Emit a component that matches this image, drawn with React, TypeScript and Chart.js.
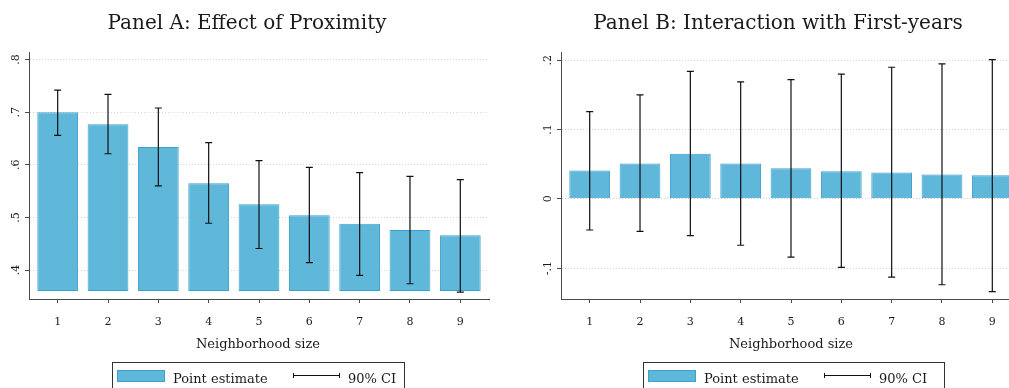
import React, { useEffect, useRef } from 'react';
import { Chart, registerables } from 'chart.js';

Chart.register(...registerables);

// ---------- data ----------
const neighborhoodSizes = [1, 2, 3, 4, 5, 6, 7, 8, 9];

const proximityEstimate = [0.700, 0.677, 0.634, 0.565, 0.525, 0.504, 0.488, 0.476, 0.466];
const proximityCILow = [0.656, 0.621, 0.560, 0.489, 0.441, 0.414, 0.390, 0.374, 0.358];
const proximityCIHigh = [0.742, 0.734, 0.708, 0.642, 0.608, 0.595, 0.585, 0.578, 0.572];
const proximityTicks = [0.4, 0.5, 0.6, 0.7, 0.8];
const proximityTickLabels = ['.4', '.5', '.6', '.7', '.8'];
const proximityBarBase = 0.36;

const firstYearEstimate = [0.041, 0.051, 0.065, 0.051, 0.044, 0.040, 0.038, 0.035, 0.034];
const firstYearCILow = [-0.045, -0.047, -0.053, -0.067, -0.084, -0.099, -0.113, -0.124, -0.134];
const firstYearCIHigh = [0.126, 0.150, 0.184, 0.169, 0.172, 0.180, 0.190, 0.195, 0.201];
const firstYearTicks = [-0.1, 0, 0.1, 0.2];
const firstYearTickLabels = ['-.1', '0', '.1', '.2'];
const firstYearBarBase = 0;

const panelTitles = ['Panel A: Effect of Proximity', 'Panel B: Interaction with First-years'];
const xAxisTitle = 'Neighborhood size';
const legendLabels = ['Point estimate', '90% CI'];

// ---------- styles ----------
const SERIF = "'DejaVu Serif', 'Liberation Serif', serif";
const BAR_FILL = 'rgb(95,183,217)';
const BAR_EDGE = 'rgb(60,162,205)';
const AXIS_COLOR = '#4a4a4a';
const TEXT_COLOR = '#1a1a1a';

function makeErrorBarPlugin(cats: number[], low: number[], high: number[]) {
  return {
    id: 'errorBars',
    afterDatasetsDraw(chart: any) {
      const { ctx } = chart;
      const x = chart.scales.x;
      const y = chart.scales.y;
      ctx.save();
      ctx.strokeStyle = '#111';
      ctx.lineWidth = 1.2;
      cats.forEach((c, i) => {
        const px = x.getPixelForValue(c);
        const yl = y.getPixelForValue(low[i]);
        const yh = y.getPixelForValue(high[i]);
        ctx.beginPath();
        ctx.moveTo(px, yl);
        ctx.lineTo(px, yh);
        ctx.moveTo(px - 3.5, yl);
        ctx.lineTo(px + 3.5, yl);
        ctx.moveTo(px - 3.5, yh);
        ctx.lineTo(px + 3.5, yh);
        ctx.stroke();
      });
      ctx.restore();
    },
  };
}

type PanelProps = {
  left: number;
  est: number[];
  base: number;
  low: number[];
  high: number[];
  ticks: number[];
  tickLabels: string[];
  yMin: number;
  yMax: number;
  labelPadding: number;
};

function PanelChart(p: PanelProps) {
  const ref = useRef<HTMLCanvasElement>(null);
  useEffect(() => {
    const chart = new Chart(ref.current as HTMLCanvasElement, {
      type: 'bar',
      data: {
        datasets: [
          {
            label: legendLabels[0],
            data: neighborhoodSizes.map((c, i) => ({ x: c, y: [p.base, p.est[i]] })) as any,
            backgroundColor: BAR_FILL,
            borderColor: BAR_EDGE,
            borderWidth: 1,
            borderSkipped: false,
            barPercentage: 0.81,
            categoryPercentage: 1,
          },
        ],
      },
      plugins: [makeErrorBarPlugin(neighborhoodSizes, p.low, p.high)],
      options: {
        responsive: false,
        animation: false,
        devicePixelRatio: 1,
        layout: { padding: { top: 52, right: 15, left: 0, bottom: 0 } },
        plugins: {
          legend: { display: false },
          tooltip: { enabled: false },
          title: { display: false },
        },
        scales: {
          x: {
            type: 'linear',
            min: 0.43,
            max: 9.57,
            offset: false,
            afterBuildTicks: (s: any) => {
              s.ticks = neighborhoodSizes.map((v) => ({ value: v }));
            },
            afterFit: (s: any) => {
              s.height = 89;
            },
            grid: {
              display: true,
              drawOnChartArea: false,
              drawTicks: true,
              tickLength: 4,
              tickColor: AXIS_COLOR,
              offset: false,
            },
            border: { display: true, color: AXIS_COLOR, width: 1 },
            ticks: {
              font: { family: SERIF, size: 11 },
              color: TEXT_COLOR,
              padding: 13,
              maxRotation: 0,
              autoSkip: false,
              callback: (v: any) => String(v),
            },
          },
          y: {
            type: 'linear',
            min: p.yMin,
            max: p.yMax,
            afterBuildTicks: (s: any) => {
              s.ticks = p.ticks.map((v) => ({ value: v }));
            },
            afterFit: (s: any) => {
              s.width = 29;
            },
            grid: {
              display: true,
              drawOnChartArea: true,
              color: '#d6d6d6',
              lineWidth: 1,
              drawTicks: true,
              tickLength: 4,
              tickColor: AXIS_COLOR,
              tickBorderDash: [],
            },
            border: { display: true, color: AXIS_COLOR, width: 1, dash: [1, 2] },
            ticks: {
              font: { family: SERIF, size: 11 },
              color: TEXT_COLOR,
              padding: p.labelPadding,
              minRotation: 90,
              maxRotation: 90,
              crossAlign: 'center',
              autoSkip: false,
              callback: (_v: any, i: number) => p.tickLabels[i],
            },
          },
        },
      } as any,
    });
    return () => chart.destroy();
  }, []);
  return (
    <canvas
      ref={ref}
      width={504}
      height={388}
      style={{ position: 'absolute', left: p.left, top: 0, width: 504, height: 388 }}
    />
  );
}

function Legend({ left, width }: { left: number; width: number }) {
  return (
    <div
      style={{
        position: 'absolute',
        left,
        top: 362,
        width,
        height: 40,
        border: '1px solid #333',
        boxSizing: 'border-box',
      }}
    >
      <div
        style={{
          position: 'absolute',
          left: 4,
          top: 7,
          width: 48,
          height: 12,
          background: BAR_FILL,
          border: `1px solid ${BAR_EDGE}`,
          boxSizing: 'border-box',
        }}
      />
      <div
        style={{
          position: 'absolute',
          left: 60,
          top: 9,
          fontSize: 13,
          lineHeight: '13px',
          whiteSpace: 'nowrap',
        }}
      >
        {legendLabels[0]}
      </div>
      <div
        style={{
          position: 'absolute',
          left: 180,
          top: 12,
          width: 47,
          height: 1,
          background: '#111',
        }}
      />
      <div style={{ position: 'absolute', left: 180, top: 10, width: 1, height: 5, background: '#111' }} />
      <div style={{ position: 'absolute', left: 226, top: 10, width: 1, height: 5, background: '#111' }} />
      <div
        style={{
          position: 'absolute',
          left: 235,
          top: 9,
          fontSize: 13,
          lineHeight: '13px',
          whiteSpace: 'nowrap',
        }}
      >
        {legendLabels[1]}
      </div>
    </div>
  );
}

function Title({ cx, text }: { cx: number; text: string }) {
  return (
    <div
      style={{
        position: 'absolute',
        left: cx,
        top: 12,
        transform: 'translateX(-50%)',
        fontSize: 20,
        lineHeight: '20px',
        whiteSpace: 'nowrap',
      }}
    >
      {text}
    </div>
  );
}

function AxisTitle({ cx }: { cx: number }) {
  return (
    <div
      style={{
        position: 'absolute',
        left: cx,
        top: 337,
        transform: 'translateX(-50%)',
        fontSize: 13,
        lineHeight: '14px',
        whiteSpace: 'nowrap',
      }}
    >
      {xAxisTitle}
    </div>
  );
}

export default function App() {
  return (
    <div
      style={{
        position: 'fixed',
        left: 0,
        top: 0,
        width: 1009,
        height: 388,
        overflow: 'hidden',
        background: '#fff',
        fontFamily: SERIF,
        color: TEXT_COLOR,
      }}
    >
      <PanelChart
        left={0}
        est={proximityEstimate}
        base={proximityBarBase}
        low={proximityCILow}
        high={proximityCIHigh}
        ticks={proximityTicks}
        tickLabels={proximityTickLabels}
        yMin={0.345}
        yMax={0.8144}
        labelPadding={4}
      />
      <PanelChart
        left={532}
        est={firstYearEstimate}
        base={firstYearBarBase}
        low={firstYearCILow}
        high={firstYearCIHigh}
        ticks={firstYearTicks}
        tickLabels={firstYearTickLabels}
        yMin={-0.1446}
        yMax={0.212}
        labelPadding={2}
      />
      <Title cx={247} text={panelTitles[0]} />
      <Title cx={778} text={panelTitles[1]} />
      <AxisTitle cx={258} />
      <AxisTitle cx={791} />
      <Legend left={112} width={293} />
      <Legend left={643} width={302} />
    </div>
  );
}
